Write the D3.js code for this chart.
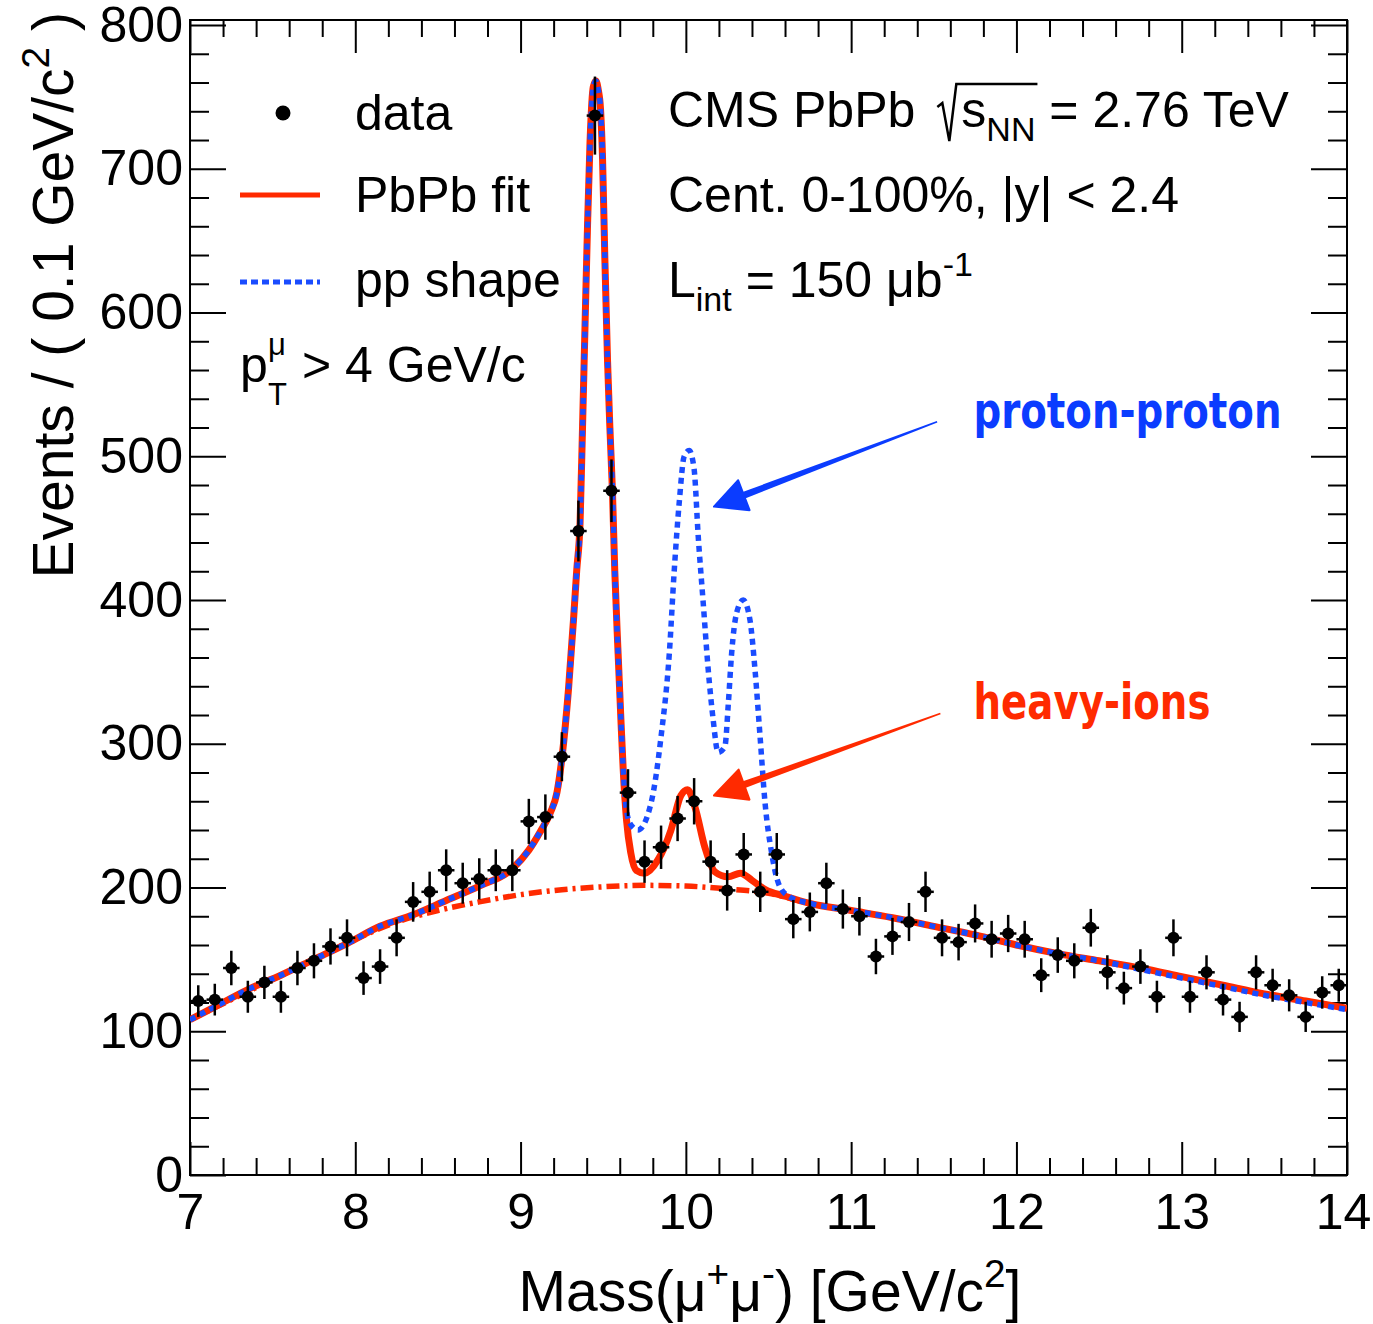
<!DOCTYPE html>
<html>
<head>
<meta charset="utf-8">
<script src="https://cdn.jsdelivr.net/npm/d3@7"></script>
<style>
  body { margin: 0; background: #fff; }
  text { font-family: "Liberation Sans", Arial, Helvetica, sans-serif; fill: #000; }
  .axis path.domain { display: none; }
  .axis line { stroke: #000; stroke-width: 2; }
  .axis text { font-family: "Liberation Sans", Arial, sans-serif; font-size: 50px; fill: #000; }
</style>
</head>
<body>
<svg id="chart" width="1373" height="1324"></svg>
<script>
// bin centres of the 0.1 GeV/c2 histogram
var binCenters = [7.05, 7.15, 7.25, 7.35, 7.45, 7.55, 7.65, 7.75, 7.85, 7.95,
  8.05, 8.15, 8.25, 8.35, 8.45, 8.55, 8.65, 8.75, 8.85, 8.95,
  9.05, 9.15, 9.25, 9.35, 9.45, 9.55, 9.65, 9.75, 9.85, 9.95,
  10.05, 10.15, 10.25, 10.35, 10.45, 10.55, 10.65, 10.75, 10.85, 10.95,
  11.05, 11.15, 11.25, 11.35, 11.45, 11.55, 11.65, 11.75, 11.85, 11.95,
  12.05, 12.15, 12.25, 12.35, 12.45, 12.55, 12.65, 12.75, 12.85, 12.95,
  13.05, 13.15, 13.25, 13.35, 13.45, 13.55, 13.65, 13.75, 13.85, 13.95];
var binCounts = [121, 122, 144, 124, 134, 124, 144, 149, 159, 165,
  137, 145, 165, 190, 197, 212, 203, 206, 212, 212,
  246, 249, 291, 448, 737, 476, 266, 218, 228, 248,
  260, 218, 198, 223, 197, 223, 178, 183, 203, 185,
  180, 152, 166, 176, 197, 165, 162, 175, 164, 168,
  164, 139, 153, 149, 172, 141, 130, 145, 124, 165,
  124, 141, 122, 110, 141, 132, 125, 110, 127, 132];
var binWidth = 0.1;

// PbPb fit (red solid)
var fitCurve = [[7.0,108],[7.15,117],[7.35,129],[7.55,139],[7.75,150],[7.95,161],[8.15,173],[8.35,181],
  [8.55,191],[8.75,201],[8.95,213],[9.05,226],[9.12,239],[9.18,252],[9.22,266],[9.25,290],[9.29,338],
  [9.32,386],[9.34,421],[9.36,454],[9.375,521],[9.39,591],[9.405,660],[9.42,718],[9.44,757],[9.456,761],
  [9.47,755],[9.484,741],[9.496,707],[9.51,637],[9.526,567],[9.54,521],[9.556,475],[9.57,420],[9.59,363],
  [9.607,317],[9.621,282],[9.641,247],[9.667,224],[9.70,212],[9.75,210],[9.83,219],[9.91,240],[9.97,264],
  [10.01,268],[10.055,256],[10.115,228],[10.175,211],[10.255,207.5],[10.33,210],[10.40,205],[10.48,198.5],
  [10.6,194],[10.75,189],[11.0,184],[11.25,179],[11.5,173],[11.75,167],[12.0,160],[12.25,154],[12.5,149],
  [12.75,144],[13.0,138],[13.25,132],[13.5,126],[13.75,121],[14.0,116]];

// pp shape (blue dotted)
var ppCurve = [[7.0,108],[7.15,117],[7.35,129],[7.55,139],[7.75,150],[7.95,161],[8.15,173],[8.35,181],
  [8.55,191],[8.75,201],[8.95,213],[9.05,226],[9.12,239],[9.18,252],[9.22,266],[9.25,290],[9.29,338],
  [9.32,386],[9.34,421],[9.36,454],[9.375,521],[9.39,591],[9.405,660],[9.42,718],[9.44,757],[9.456,761],
  [9.47,755],[9.484,741],[9.496,707],[9.51,637],[9.526,567],[9.54,521],[9.556,475],[9.57,420],[9.59,363],
  [9.607,317],[9.63,266],[9.66,245],[9.71,240],[9.79,259],[9.85,305],[9.90,363],[9.93,421],[9.96,468],
  [9.99,500],[10.02,504],[10.05,491],[10.075,444],[10.105,398],[10.135,352],[10.165,317],[10.195,294],
  [10.236,298],[10.257,328],[10.277,363],[10.307,391],[10.347,400],[10.388,386],[10.418,352],[10.449,305],
  [10.479,259],[10.519,224],[10.56,203],[10.62,194],[10.75,189],[11.0,184],[11.25,179],[11.5,173],
  [11.75,167],[12.0,160],[12.25,154],[12.5,149],[12.75,143],[13.0,137],[13.25,131],[13.5,125],
  [13.75,120],[14.0,115]];

// background component (red dash-dot)
var bgCurve = [[7.0,108],[7.25,122],[7.5,136],[7.75,150],[8.0,164],[8.25,176],[8.5,184],[8.75,190],
  [9.0,195],[9.25,198.5],[9.5,200.5],[9.75,201.5],[10.0,201],[10.25,199],[10.5,196],[10.75,189],
  [11.0,184],[11.25,179],[11.5,173],[11.75,167],[12.0,160],[12.25,154],[12.5,149],[12.75,144],
  [13.0,138],[13.25,132],[13.5,126],[13.75,121],[14.0,116]];

var xTickLabels = ['7', '8', '9', '10', '11', '12', '13', '14'];
var yTickLabels = ['0', '100', '200', '300', '400', '500', '600', '700', '800'];

var annotations = [
  {text: 'proton-proton', color: '#0b3cff', at: [11.74, 520], width: 308, tail: [11.52, 524], tip: [10.17, 465]},
  {text: 'heavy-ions', color: '#ff2a00', at: [11.74, 317], width: 237, tail: [11.54, 321], tip: [10.17, 264]}
];

var red = '#ff2a00', blue = '#1a4cff';
var svg = d3.select('#chart');
svg.append('rect').attr('width', 1373).attr('height', 1324).attr('fill', '#fff');

var x = d3.scaleLinear().domain([7, 14]).range([190, 1347]);
var y = d3.scaleLinear().domain([0, 803.5]).range([1175, 20]);

svg.append('clipPath').attr('id', 'plot').append('rect')
  .attr('x', x(7)).attr('y', y(803.5)).attr('width', x(14) - x(7)).attr('height', y(0) - y(803.5));

// axes: ROOT style, ticks inward on four sides
var xMajor = xTickLabels.map(Number);
var yMajor = yTickLabels.map(Number);
var xMinor = d3.range(7, 14.001, 0.2).filter(function(d) { return Math.abs(d - Math.round(d)) > 0.01; });
var yMinor = d3.range(0, 801, 20).filter(function(d) { return d % 100 !== 0; });

function axisGroup(gen, tx, ty) {
  return svg.append('g').attr('class', 'axis').attr('transform', 'translate(' + tx + ',' + ty + ')').call(gen);
}
var xax = axisGroup(d3.axisBottom(x).tickValues(xMajor).tickSize(-33).tickSizeOuter(0).tickPadding(18)
  .tickFormat(function(d, i) { return xTickLabels[i]; }), 0, y(0));
// keep the last label inside the page
xax.selectAll('text').filter(function(d) { return d === 14; }).attr('dx', -4);
axisGroup(d3.axisBottom(x).tickValues(xMinor).tickSize(-17).tickSizeOuter(0).tickFormat(''), 0, y(0));
axisGroup(d3.axisTop(x).tickValues(xMajor).tickSize(-33).tickSizeOuter(0).tickFormat(''), 0, y(803.5));
axisGroup(d3.axisTop(x).tickValues(xMinor).tickSize(-17).tickSizeOuter(0).tickFormat(''), 0, y(803.5));
axisGroup(d3.axisLeft(y).tickValues(yMajor).tickSize(-36).tickSizeOuter(0).tickPadding(7)
  .tickFormat(function(d, i) { return yTickLabels[i]; }), x(7), 0);
axisGroup(d3.axisLeft(y).tickValues(yMinor).tickSize(-19).tickSizeOuter(0).tickFormat(''), x(7), 0);
axisGroup(d3.axisRight(y).tickValues(yMajor).tickSize(-36).tickSizeOuter(0).tickFormat(''), x(14), 0);
axisGroup(d3.axisRight(y).tickValues(yMinor).tickSize(-19).tickSizeOuter(0).tickFormat(''), x(14), 0);

svg.append('rect').attr('x', x(7)).attr('y', y(803.5))
  .attr('width', x(14) - x(7)).attr('height', y(0) - y(803.5))
  .attr('fill', 'none').attr('stroke', '#000').attr('stroke-width', 2);

// curves
var line = d3.line().x(function(d) { return x(d[0]); }).y(function(d) { return y(d[1]); }).curve(d3.curveMonotoneX);
var curves = svg.append('g').attr('clip-path', 'url(#plot)');
curves.append('path').attr('d', line(bgCurve)).attr('fill', 'none').attr('stroke', red)
  .attr('stroke-width', 5.5).attr('stroke-dasharray', '13,5,3,5');
curves.append('path').attr('d', line(fitCurve)).attr('fill', 'none').attr('stroke', red)
  .attr('stroke-width', 7).attr('stroke-linejoin', 'round');
curves.append('path').attr('d', line(ppCurve)).attr('fill', 'none').attr('stroke', blue)
  .attr('stroke-width', 5.5).attr('stroke-dasharray', '6,5');

// data points with poisson errors
var pts = svg.append('g').selectAll('g').data(binCounts).enter().append('g');
pts.append('line')
  .attr('x1', function(d, i) { return x(binCenters[i]); })
  .attr('x2', function(d, i) { return x(binCenters[i]); })
  .attr('y1', function(d) { return y(d - Math.sqrt(d)); })
  .attr('y2', function(d) { return y(d + Math.sqrt(d)); })
  .attr('stroke', '#000').attr('stroke-width', 2.5);
pts.append('line')
  .attr('x1', function(d, i) { return x(binCenters[i] - binWidth / 2); })
  .attr('x2', function(d, i) { return x(binCenters[i] + binWidth / 2); })
  .attr('y1', function(d) { return y(d); })
  .attr('y2', function(d) { return y(d); })
  .attr('stroke', '#000').attr('stroke-width', 2.5);
pts.append('circle')
  .attr('cx', function(d, i) { return x(binCenters[i]); })
  .attr('cy', function(d) { return y(d); })
  .attr('r', 6).attr('fill', '#000');

// text with super/subscripts
function richText(g, tx, ty, parts, size) {
  var t = g.append('text').attr('x', tx).attr('y', ty).attr('font-size', size);
  var off = 0;
  parts.forEach(function(p) {
    var target = p.v === 'sup' ? -0.42 * size : p.v === 'sub' ? 0.28 * size : 0;
    var s = t.append('tspan').attr('dy', target - off).attr('font-size', p.v ? size * 0.68 : size).text(p.t);
    if (p.dx) s.attr('dx', p.dx);
    off = target;
  });
  return t;
}

var fs = 50;
// legend
svg.append('circle').attr('cx', 283).attr('cy', 113).attr('r', 7.5).attr('fill', '#000');
svg.append('line').attr('x1', 240).attr('x2', 320).attr('y1', 195).attr('y2', 195)
  .attr('stroke', red).attr('stroke-width', 5);
svg.append('line').attr('x1', 240).attr('x2', 320).attr('y1', 282).attr('y2', 282)
  .attr('stroke', blue).attr('stroke-width', 5).attr('stroke-dasharray', '7,4');
richText(svg, 355, 130, [{t: 'data'}], fs);
richText(svg, 355, 212, [{t: 'PbPb fit'}], fs);
richText(svg, 355, 297, [{t: 'pp shape'}], fs);
svg.append('text').attr('x', 240).attr('y', 382).attr('font-size', fs).text('p');
svg.append('text').attr('x', 268).attr('y', 355).attr('font-size', fs * 0.62).text('\u03bc');
svg.append('text').attr('x', 268).attr('y', 405).attr('font-size', fs * 0.62).text('T');
svg.append('text').attr('x', 302).attr('y', 382).attr('font-size', fs).text('> 4 GeV/c');

// CMS labels
var cms = richText(svg, 668, 127, [{t: 'CMS PbPb'}, {t: 's', dx: 46}, {t: 'NN', v: 'sub'}, {t: ' = 2.76 TeV'}], fs);
var sPos = cms.node().getStartPositionOfChar(8);
var nnEnd = cms.node().getEndPositionOfChar(10);
svg.append('path')
  .attr('d', 'M' + (sPos.x - 24) + ',' + (127 - 20) + 'L' + (sPos.x - 19) + ',' + (127 - 24) +
    'L' + (sPos.x - 12) + ',' + (127 + 14) + 'L' + (sPos.x - 5) + ',' + (127 - 43) +
    'L' + (nnEnd.x + 2) + ',' + (127 - 43))
  .attr('fill', 'none').attr('stroke', '#000').attr('stroke-width', 2.5);
richText(svg, 668, 212, [{t: 'Cent. 0-100%, |y| < 2.4'}], fs);
richText(svg, 668, 297, [{t: 'L'}, {t: 'int', v: 'sub'}, {t: ' = 150 \u03bcb'}, {t: '-1', v: 'sup'}], fs);

// axis titles
var xt = richText(svg, 770, 1311, [{t: 'Mass(\u03bc'}, {t: '+', v: 'sup'}, {t: '\u03bc'}, {t: '-', v: 'sup'},
  {t: ') [GeV/c'}, {t: '2', v: 'sup'}, {t: ']'}], 57);
xt.attr('text-anchor', 'middle');
var yt = richText(svg, 0, 0, [{t: 'Events / ( 0.1 GeV/c'}, {t: '2', v: 'sup'}, {t: ' )'}], 57);
yt.attr('text-anchor', 'end').attr('transform', 'translate(73,12) rotate(-90)');

// hand drawn annotations
annotations.forEach(function(a) {
  var tx = x(a.tail[0]), ty = y(a.tail[1]), px = x(a.tip[0]), py = y(a.tip[1]);
  var len = Math.hypot(px - tx, py - ty), ux = (px - tx) / len, uy = (py - ty) / len;
  var nx = -uy, ny = ux, hl = 32, hw = 16;
  var bx = px - ux * hl, by = py - uy * hl;
  svg.append('path').attr('fill', a.color)
    .attr('d', 'M' + (tx + nx * 0.8) + ',' + (ty + ny * 0.8) + 'L' + (bx + nx * 3.5) + ',' + (by + ny * 3.5) +
      'L' + (bx - nx * 3.5) + ',' + (by - ny * 3.5) + 'L' + (tx - nx * 0.8) + ',' + (ty - ny * 0.8) + 'Z');
  svg.append('path').attr('fill', a.color).attr('stroke', a.color).attr('stroke-width', 2)
    .attr('stroke-linejoin', 'round')
    .attr('d', 'M' + px + ',' + py + 'L' + (bx + nx * hw) + ',' + (by + ny * hw) +
      'L' + (bx - nx * hw) + ',' + (by - ny * hw) + 'Z');
  svg.append('text').attr('x', x(a.at[0])).attr('y', y(a.at[1]))
    .attr('font-size', 50).attr('font-weight', 'bold')
    .style('font-family', '"DejaVu Sans Condensed", "DejaVu Sans", sans-serif')
    .style('fill', a.color)
    .attr('textLength', a.width).attr('lengthAdjust', 'spacingAndGlyphs')
    .text(a.text);
});
</script>
</body>
</html>
